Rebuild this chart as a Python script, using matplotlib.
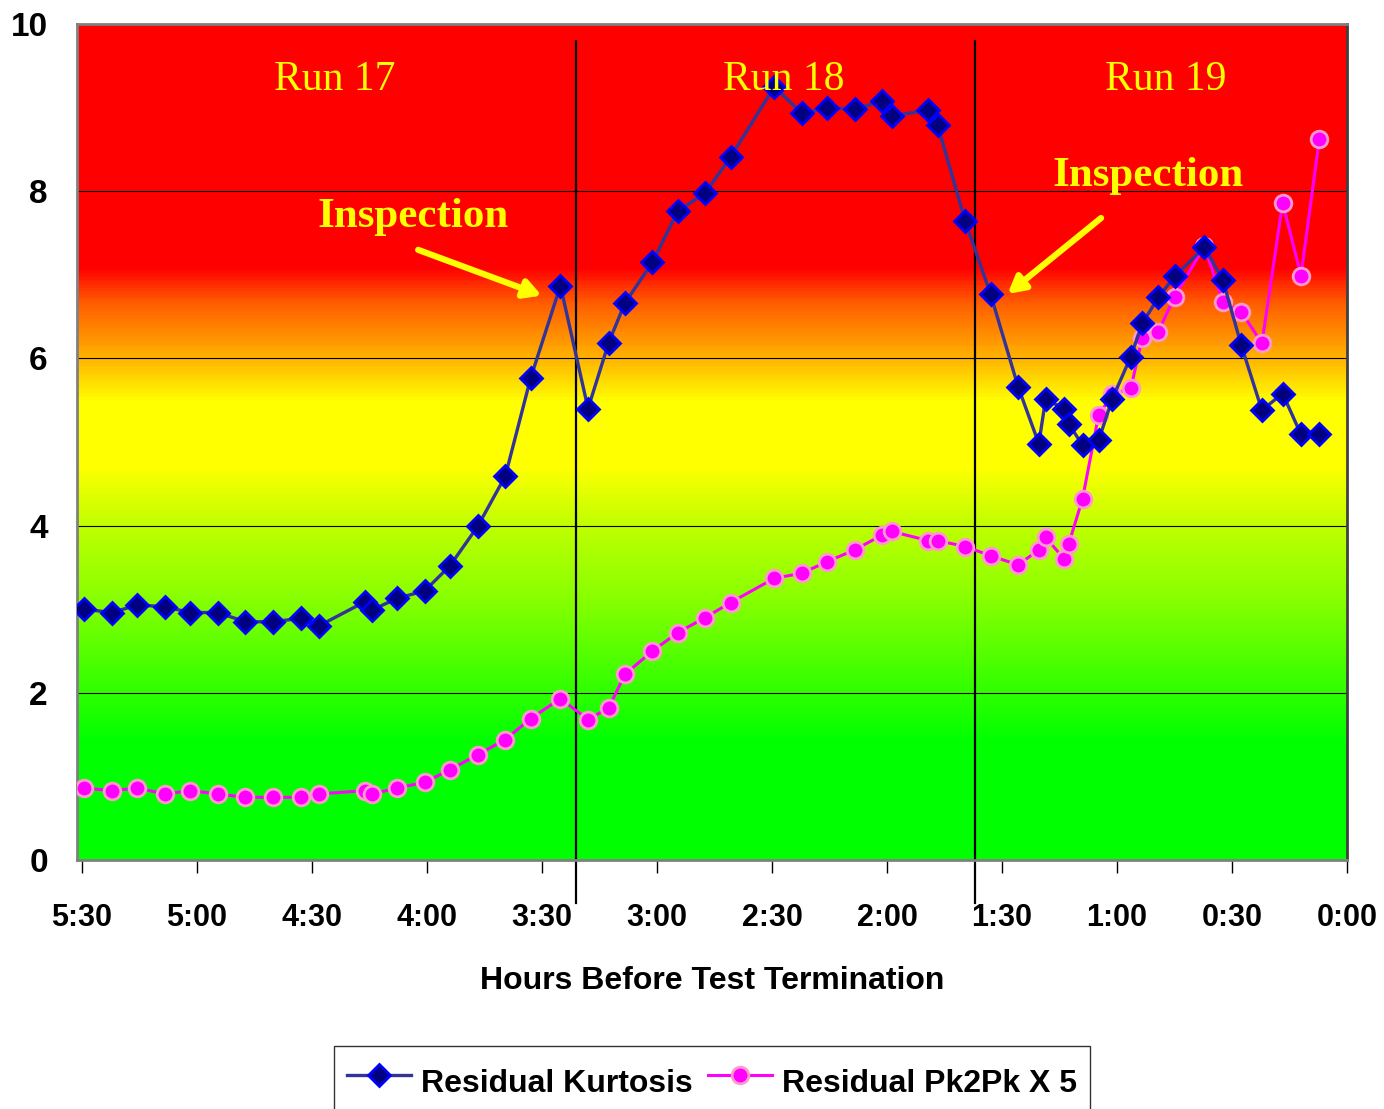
import numpy as np
import matplotlib
matplotlib.use("Agg")
import matplotlib.pyplot as plt
from matplotlib.colors import LinearSegmentedColormap
from matplotlib.lines import Line2D

# hours before test termination (shared by both series)
hours = [5.49, 5.37, 5.26, 5.14, 5.03, 4.91, 4.79, 4.67, 4.55, 4.47,
         4.27, 4.24, 4.13, 4.01, 3.90, 3.78, 3.66, 3.55, 3.42, 3.30,
         3.21, 3.14, 3.02, 2.91, 2.79, 2.68, 2.49, 2.37, 2.26, 2.14,
         2.02, 1.98, 1.82, 1.78, 1.66, 1.55, 1.43, 1.34, 1.31, 1.23,
         1.21, 1.15, 1.08, 1.02, 0.94, 0.89, 0.82, 0.75, 0.62, 0.54,
         0.46, 0.37, 0.28, 0.20, 0.12]

kurtosis = [3.00, 2.96, 3.05, 3.03, 2.96, 2.96, 2.85, 2.85, 2.89, 2.80,
            3.09, 2.99, 3.13, 3.22, 3.52, 3.99, 4.59, 5.76, 6.87, 5.40,
            6.19, 6.66, 7.15, 7.76, 7.98, 8.41, 9.25, 8.93, 9.00, 8.98,
            9.08, 8.90, 8.97, 8.79, 7.64, 6.77, 5.66, 4.98, 5.52, 5.39,
            5.22, 4.96, 5.02, 5.52, 6.02, 6.42, 6.73, 6.98, 7.33, 6.94,
            6.16, 5.38, 5.58, 5.09, 5.09]

pk2pk_x5 = [0.86, 0.83, 0.86, 0.79, 0.83, 0.79, 0.75, 0.75, 0.75, 0.79,
            0.83, 0.79, 0.86, 0.93, 1.08, 1.26, 1.44, 1.69, 1.93, 1.68,
            1.82, 2.22, 2.50, 2.72, 2.90, 3.08, 3.37, 3.43, 3.57, 3.71,
            3.89, 3.93, 3.82, 3.82, 3.75, 3.64, 3.53, 3.71, 3.86, 3.60,
            3.78, 4.32, 5.32, 5.57, 5.64, 6.25, 6.32, 6.74, 7.34, 6.68,
            6.56, 6.18, 7.86, 6.99, 8.63]

x_ticks = [5.5, 5.0, 4.5, 4.0, 3.5, 3.0, 2.5, 2.0, 1.5, 1.0, 0.5, 0.0]
x_labels = ["5:30", "5:00", "4:30", "4:00", "3:30", "3:00",
            "2:30", "2:00", "1:30", "1:00", "0:30", "0:00"]
run_breaks = [3.354, 1.616]
run_labels = [("Run 17", 4.40), ("Run 18", 2.45), ("Run 19", 0.79)]

plt.rcParams["font.family"] = ["Liberation Sans", "DejaVu Sans"]

fig = plt.figure(figsize=(13.84, 11.09), dpi=100)
ax = fig.add_axes([77 / 1384, 1 - 860 / 1109, 1270 / 1384, 836 / 1109])

# background gradient green -> yellow -> red
stops = [(0.0, "#00ff00"), (0.14, "#00ff00"), (0.20, "#30ff00"),
         (0.30, "#80ff00"), (0.40, "#c0ff00"), (0.47, "#ffff00"),
         (0.55, "#ffff00"), (0.60, "#ffb400"), (0.665, "#ff6000"),
         (0.71, "#ff0000"), (1.0, "#ff0000")]
cmap = LinearSegmentedColormap.from_list("bg", stops)
grad = np.linspace(0, 1, 500).reshape(-1, 1)
ax.imshow(grad, cmap=cmap, origin="lower", aspect="auto",
          extent=[5.522, 0, 0, 10], zorder=0)

ax.set_xlim(5.522, 0)
ax.set_ylim(0, 10)

for yv in [2, 4, 6, 8]:
    ax.axhline(yv, color="black", lw=0.8, zorder=1)

for xb in run_breaks:
    ax.plot([xb, xb], [-0.52, 9.8], color="black", lw=1.6, zorder=2, clip_on=False)

ax.plot(hours, pk2pk_x5, color="#ff00ff", lw=2.2, marker="o", ms=12,
        mfc="#ff00ff", mec="#ff99cc", mew=2, zorder=3)
ax.plot(hours, kurtosis, color="#333399", lw=2.4, marker="D", ms=11,
        mfc="#000080", mec="#0000ff", mew=2, zorder=4)

for txt, xv in run_labels:
    ax.text(xv, 9.33, txt, color="#ffff00", fontsize=30, ha="center", va="center",
            family="Liberation Serif", zorder=5)

ax.text(4.06, 7.69, "Inspection", color="#ffff00", fontsize=31, fontweight="bold",
        ha="center", va="center", family="Liberation Serif", zorder=5)
ax.text(0.864, 8.18, "Inspection", color="#ffff00", fontsize=31, fontweight="bold",
        ha="center", va="center", family="Liberation Serif", zorder=5)

arrow_style = dict(arrowstyle="-|>,head_length=1.0,head_width=0.55",
                   color="#ffff00", lw=4.5)
ax.annotate("", xy=(3.49, 6.74), xytext=(4.05, 7.31), arrowprops=arrow_style, zorder=5)
ax.annotate("", xy=(1.485, 6.75), xytext=(1.06, 7.70), arrowprops=arrow_style, zorder=5)

ax.set_xticks(x_ticks)
ax.set_xticklabels(x_labels)
ax.set_yticks([0, 2, 4, 6, 8, 10])
ax.tick_params(axis="x", direction="out", length=9, width=1, pad=22,
               labelsize=22)
ax.tick_params(axis="y", length=0, pad=21, labelsize=24)
for lab in ax.get_xticklabels() + ax.get_yticklabels():
    lab.set_fontweight("bold")

for sp in ax.spines.values():
    sp.set_color("#808080")
    sp.set_linewidth(2)
ax.spines["right"].set_color("#404040")

ax.set_xlabel("Hours Before Test Termination", fontsize=23, fontweight="bold",
              labelpad=24)

handles = [
    Line2D([], [], color="#333399", lw=2.4, marker="D", ms=11,
           mfc="#000080", mec="#0000ff", mew=2),
    Line2D([], [], color="#ff00ff", lw=2.2, marker="o", ms=12,
           mfc="#ff00ff", mec="#ff99cc", mew=2),
]
# legend box runs off the bottom edge like the original
leg = fig.legend(handles, ["Residual Kurtosis", "Residual Pk2Pk X 5"],
                 loc="upper center", bbox_to_anchor=(712 / 1384, 1 - 1030 / 1109),
                 ncol=2, prop={"weight": "bold", "size": 23},
                 frameon=True, fancybox=False, edgecolor="black",
                 handlelength=2.0, handleheight=1.8, handletextpad=0.3,
                 columnspacing=0.5, borderpad=0.4)
leg.get_frame().set_linewidth(1.0)

fig.savefig("out.png", dpi=100)
